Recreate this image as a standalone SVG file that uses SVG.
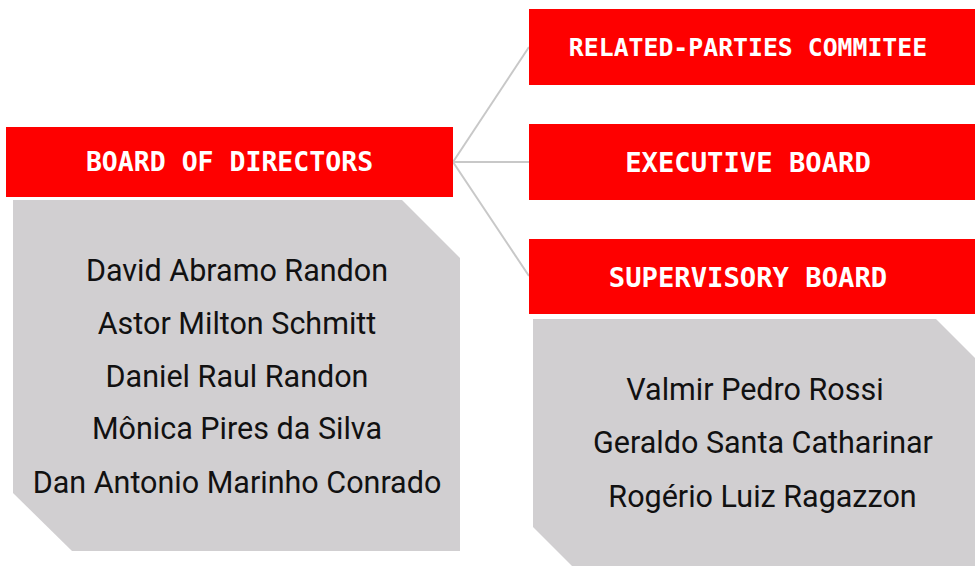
<svg xmlns="http://www.w3.org/2000/svg" width="975" height="566" viewBox="0 0 975 566">
<style>
.hdr{fill:#fe0000}
.ht{font-family:"DejaVu Sans Mono","Liberation Mono",monospace;font-weight:bold;font-size:26.5px;fill:#fff;text-anchor:middle}
.card{fill:#d1cfd1}
.nm{font-family:Roboto,"Liberation Sans",sans-serif;font-size:30.5px;fill:#111;text-anchor:middle}
.con{stroke:#c8c8c8;stroke-width:2;fill:none}
</style>
<rect width="975" height="566" fill="#fff"/>
<g id="connectors">
<line class="con" x1="453" y1="162" x2="529" y2="47"/>
<line class="con" x1="453" y1="162" x2="529" y2="162"/>
<line class="con" x1="453" y1="162" x2="529" y2="276"/>
</g>
<g id="board-of-directors">
<rect class="hdr" x="6" y="127" width="447" height="70"/>
<text class="ht" x="229.5" y="171">BOARD OF DIRECTORS</text>
</g>
<g id="board-members">
<polygon class="card" points="13,200 402,200 460,258 460,551 72,551 13,493"/>
<text class="nm" x="237" y="281">David Abramo Randon</text>
<text class="nm" x="237" y="334">Astor Milton Schmitt</text>
<text class="nm" x="237" y="387">Daniel Raul Randon</text>
<text class="nm" x="237" y="439">Mônica Pires da Silva</text>
<text class="nm" x="237" y="493">Dan Antonio Marinho Conrado</text>
</g>
<g id="related-parties">
<rect class="hdr" x="529" y="9" width="450" height="76"/>
<text class="ht" x="748" y="56" style="font-size:24.8px">RELATED-PARTIES COMMITEE</text>
</g>
<g id="executive-board">
<rect class="hdr" x="529" y="124" width="450" height="76"/>
<text class="ht" x="748" y="172" style="font-size:27.2px">EXECUTIVE BOARD</text>
</g>
<g id="supervisory-board">
<rect class="hdr" x="529" y="239" width="450" height="75"/>
<text class="ht" x="748" y="287" style="font-size:27.2px">SUPERVISORY BOARD</text>
</g>
<g id="supervisory-members">
<polygon class="card" points="533,319 936,319 990,373 990,590 596,590 533,527"/>
<text class="nm" x="755" y="400">Valmir Pedro Rossi</text>
<text class="nm" x="763" y="453">Geraldo Santa Catharinar</text>
<text class="nm" x="762.5" y="507">Rogério Luiz Ragazzon</text>
</g>
</svg>
